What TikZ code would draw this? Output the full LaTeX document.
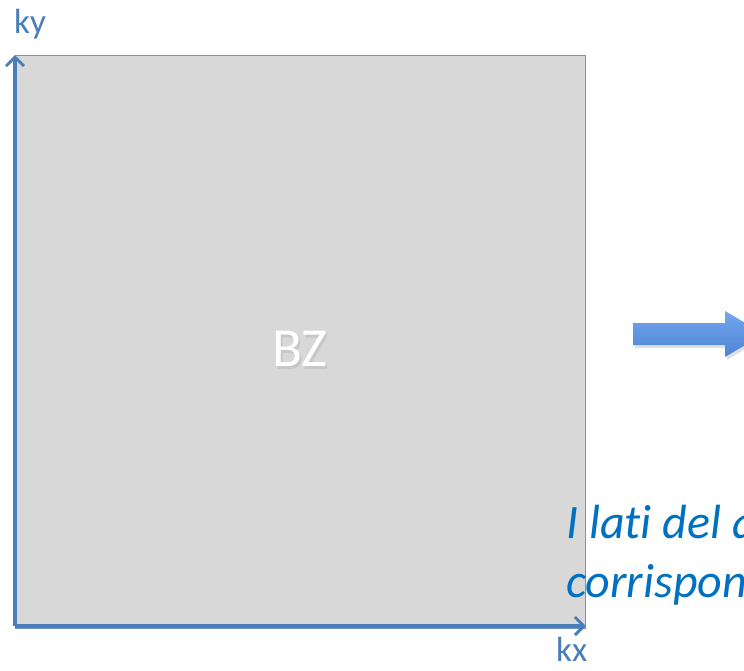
\documentclass[tikz,border=0pt]{standalone}
\usepackage{fontspec}
\setmainfont{Carlito}[Ligatures=NoCommon]
\usetikzlibrary{arrows.meta}
\definecolor{axisblue}{HTML}{4A7EBB}
\definecolor{edgeblue}{HTML}{6F94C6}
\definecolor{bzgray}{HTML}{D8D8D8}
\definecolor{txtblue}{HTML}{0070C0}
\definecolor{arrlight}{HTML}{74A6EC}
\definecolor{arrdark}{HTML}{4C84D6}
\tikzset{
  axis/.style={draw=axisblue, line width=3.5pt, -{Straight Barb[length=9pt,width=18pt,line width=3pt]}},
  lbl/.style={text=axisblue, font=\fontsize{35}{38}\selectfont, inner sep=0pt},
  note/.style={text=txtblue, font=\itshape\fontsize{48}{58}\selectfont, inner sep=0pt, anchor=base west},
}
\begin{document}
\begin{tikzpicture}[x=1pt,y=-1pt]
\useasboundingbox (0,0) rectangle (744,670);
\clip (0,0) rectangle (744,670);
% square
\node (sq) [draw=edgeblue, line width=1.2pt, fill=bzgray, minimum width=570pt, minimum height=573pt, inner sep=0pt, anchor=north west] at (15,55) {};
% BZ with soft shadow
\node (bzs) [text=black!40, opacity=0.25, font=\fontsize{55}{60}\selectfont, inner sep=0pt] at (302,352) {BZ};
\node (bz) [text=white, font=\fontsize{55}{60}\selectfont, inner sep=0pt] at (300,349) {BZ};
% axes
\coordinate (o) at (15,626);
\coordinate (ytip) at (15,55);
\coordinate (xtip) at (586,626);
\draw[axis] (o) -- (ytip);
\draw[axis] (o) -- (xtip);
\node (ky) [lbl, anchor=base west] at (14,33) {ky};
\node (kx) [lbl, anchor=base west] at (556,661) {kx};
% block arrow
\fill[black, opacity=0.12] (635,326) -- (727,326) -- (727,314) -- (766,337) -- (727,360) -- (727,348) -- (635,348) -- cycle;
\shade[top color=arrlight, bottom color=arrdark] (633,323) -- (725,323) -- (725,311) -- (764,334) -- (725,357) -- (725,345) -- (633,345) -- cycle;
% text (cut by the picture's right edge)
\node (t1) [note] at (566,538) {I lati del quadrato};
\node (t2) [note] at (566,597) {corrispondono};
\end{tikzpicture}
\end{document}
